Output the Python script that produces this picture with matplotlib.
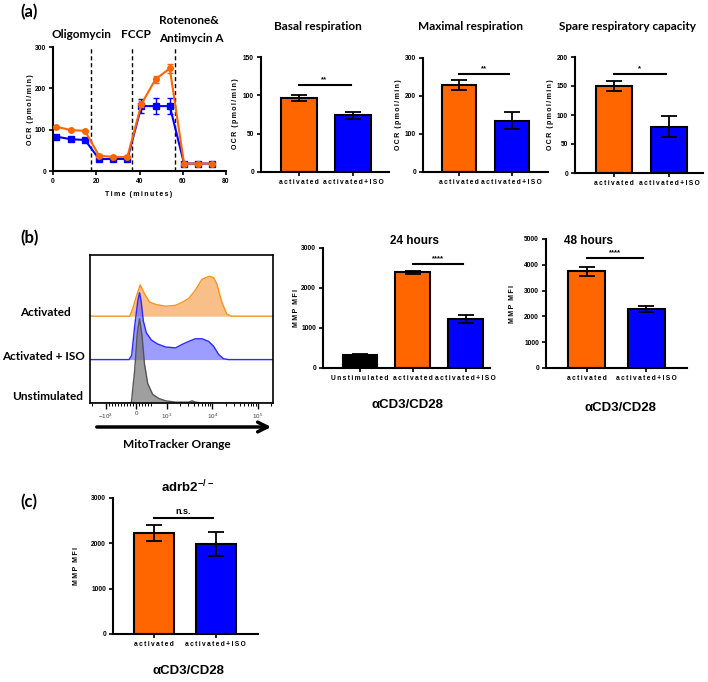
import matplotlib.pyplot as plt
import numpy as np

plt.rcParams['mathtext.default'] = 'regular'
plt.rcParams['font.family'] = ['Liberation Sans', 'DejaVu Sans']

W, H = 708, 682
fig = plt.figure(figsize=(W / 100, H / 100), dpi=100)

ORANGE = '#ff6600'
BLUE = '#0000ff'
CALIBRI = 'Lato'

# ---- (a) OCR trace
time_min = [1.6, 8.2, 14.8, 21.3, 27.9, 34.4, 40.9, 47.4, 54.0, 60.6, 67.1, 73.6]
ocr_act = [107, 99, 97, 37, 34, 34, 162, 222, 248, 18, 18, 18]
ocr_act_err = [3, 3, 3, 3, 2, 2, 8, 8, 12, 2, 2, 2]
ocr_iso = [83, 77, 75, 29, 29, 29, 157, 157, 157, 18, 18, 18]
ocr_iso_err = [3, 3, 3, 2, 2, 2, 17, 20, 20, 2, 2, 2]
injections = [17.4, 36.5, 56.3]

groups2 = ['activated', 'activated+ISO']
groups3 = ['Unstimulated', 'activated', 'activated+ISO']
basal = [96, 74]
basal_err = [4, 4.5]
maximal = [228, 135]
maximal_err = [13, 22]
spare = [150, 80]
spare_err = [9, 18]

# ---- (b) histogram (MitoTracker intensity, relative height)
act_x = [-213, -106, 0, 129, 271, 432, 645, 968, 1570, 2195, 3069, 4270, 5970,
         8610, 10700, 12600, 16200, 20900, 26900]
act_h = [0, 0.20, 0.45, 0.72, 0.52, 0.33, 0.27, 0.23, 0.25, 0.32, 0.41, 0.60, 0.85,
         0.92, 0.89, 0.75, 0.33, 0.05, 0]
iso_x = [-235, -150, -52, 50, 108, 160, 230, 330, 500, 700, 968, 1570, 2195, 3069,
         4270, 5970, 8350, 10700, 13800, 17700, 23000]
iso_h = [0, 0.10, 0.77, 1.35, 1.54, 1.35, 0.90, 0.62, 0.45, 0.36, 0.29, 0.27, 0.35, 0.42,
         0.48, 0.48, 0.42, 0.31, 0.12, 0.02, 0]
unst_x = [-161, -52, 32, 108, 194, 271, 377, 539, 753, 968, 1570, 3069, 3620, 4270, 5970]
unst_h = [0, 0.75, 1.60, 1.95, 1.52, 0.90, 0.45, 0.20, 0.10, 0.05, 0.02, 0.02, 0.05, 0.02, 0]

mmp_24h = [333, 2390, 1230]
mmp_24h_err = [15, 40, 100]
mmp_48h = [3750, 2290]
mmp_48h_err = [170, 130]

# ---- (c) adrb2-/-
mmp_ko = [2230, 1990]
mmp_ko_err = [175, 270]

THIN = '\u2009'


def spaced(s):
    # GraphPad-style wide letter tracking
    return '  '.join(THIN.join(w) for w in s.split(' '))


def px_axes(l, t, r, b):
    return fig.add_axes([l / W, 1 - b / H, (r - l) / W, (b - t) / H])


def ftext(x, y, s, **kw):
    kw.setdefault('ha', 'center')
    kw.setdefault('va', 'center')
    fig.text(x / W, 1 - y / H, s, **kw)


def style_axes(ax):
    for s in ['top', 'right']:
        ax.spines[s].set_visible(False)
    for s in ['left', 'bottom']:
        ax.spines[s].set_linewidth(1.5)
    ax.tick_params(width=1.2, length=3, labelsize=4.8, pad=2)
    for lbl in ax.get_yticklabels() + ax.get_xticklabels():
        lbl.set_fontweight('bold')
    ax.patch.set_alpha(0)


def bar_panel(ax, names, vals, errs, colors, ymax, ystep, xlim, width, sig, sig_y):
    pos = np.arange(len(vals))
    ax.bar(pos, vals, width=width, color=colors, edgecolor='black', linewidth=1.5, zorder=2)
    ax.errorbar(pos, vals, yerr=errs, fmt='none', ecolor='black', elinewidth=1.3,
                capsize=6, capthick=1.3, zorder=3)
    ax.set_xlim(*xlim)
    ax.set_ylim(0, ymax)
    ax.set_yticks(np.arange(0, ymax + 1, ystep))
    ax.set_xticks(pos)
    ax.set_xticklabels([spaced(n) for n in names], fontsize=4.2)
    style_axes(ax)
    p0 = len(vals) - 2
    ax.plot([p0, p0 + 0.95], [sig_y, sig_y], color='black', lw=1.5, clip_on=False)
    ax.text(p0 + 0.47, sig_y + ymax * 0.015, sig, ha='center', va='bottom',
            fontsize=6.5 if sig == 'n.s.' else 5.5, fontweight='bold')


# ======== panel (a)
ftext(20, 12, '(a)', fontsize=12, fontweight='bold', family=CALIBRI, ha='left')
ax = px_axes(53, 47, 226, 171)
ax.errorbar(time_min, ocr_act, yerr=ocr_act_err, color=ORANGE, marker='o', ms=4,
            lw=1.5, capsize=2.5, elinewidth=1, clip_on=False, zorder=3)
ax.errorbar(time_min, ocr_iso, yerr=ocr_iso_err, color=BLUE, marker='s', ms=4,
            lw=1.5, capsize=2.5, elinewidth=1, clip_on=False, zorder=2)
for t in injections:
    ax.axvline(t, color='black', lw=1, ls=(0, (3, 2)), zorder=1)
ax.set_xlim(0, 80)
ax.set_ylim(0, 300)
ax.set_xticks([0, 20, 40, 60, 80])
ax.set_yticks([0, 100, 200, 300])
style_axes(ax)
ftext(139, 195, spaced('Time (minutes)'), fontsize=5, fontweight='bold')
ocr_lbl = spaced('OCR (pmol/min)')
ftext(30, 110, ocr_lbl, fontsize=5, fontweight='bold', rotation=90)
ftext(81, 34, 'Oligomycin', fontsize=8.5, fontweight='bold', family=CALIBRI)
ftext(136, 34, 'FCCP', fontsize=8.5, fontweight='bold', family=CALIBRI)
ftext(159, 20, 'Rotenone&', fontsize=8.5, fontweight='bold', family=CALIBRI, ha='left')
ftext(159, 38, 'Antimycin A', fontsize=8.5, fontweight='bold', family=CALIBRI, ha='left')

ax = px_axes(261, 57, 389, 172)
bar_panel(ax, groups2, basal, basal_err, [ORANGE, BLUE], 150, 50, (-0.69, 1.65), 0.66, '**', 113)
ftext(274, 26, 'Basal respiration', fontsize=8.5, fontweight='bold', family=CALIBRI, ha='left')
ftext(235, 114, ocr_lbl, fontsize=5, fontweight='bold', rotation=90)

ax = px_axes(423, 58, 548, 172)
bar_panel(ax, groups2, maximal, maximal_err, [ORANGE, BLUE], 300, 100, (-0.69, 1.69), 0.64, '**', 259)
ftext(418, 26, 'Maximal respiration', fontsize=8.5, fontweight='bold', family=CALIBRI, ha='left')
ftext(398, 115, ocr_lbl, fontsize=5, fontweight='bold', rotation=90)

ax = px_axes(575, 57, 703, 173)
bar_panel(ax, groups2, spare, spare_err, [ORANGE, BLUE], 200, 50, (-0.70, 1.61), 0.65, '*', 170)
ftext(559, 26, 'Spare respiratory capacity', fontsize=8.5, fontweight='bold', family=CALIBRI, ha='left')
ftext(551, 115, ocr_lbl, fontsize=5, fontweight='bold', rotation=90)

# ======== panel (b)
ftext(20, 238, '(b)', fontsize=12, fontweight='bold', family=CALIBRI, ha='left')
ax = px_axes(90, 255, 273, 403)
ax.set_xscale('symlog', linthresh=1000, linscale=0.6)
xmin, xmax = -2230, 216000
ridges = [
    (act_x, act_h, 2, '#f9bf88', 1.0, '#f7941d'),
    (iso_x, iso_h, 1, '#5c5cff', 0.6, '#2a2aff'),
    (unst_x, unst_h, 0, '#777777', 0.7, '#555555'),
]
for xs, hs, base, fc, al, lc in ridges:
    xx = np.r_[xmin, xs, xmax]
    hh = np.r_[0, hs, 0]
    ax.fill_between(xx, base, base + hh, color=fc, alpha=al, lw=0)
    ax.plot(xx, base + hh, color=lc, lw=1)
ax.set_xlim(xmin, xmax)
ax.set_ylim(0, 3.41)
ax.set_yticks([])
ax.set_xticks([-1000, 0, 1000, 10000, 100000])
ax.set_xticklabels(['$-10^3$', '0', '$10^3$', '$10^4$', '$10^5$'], color='#444444', fontsize=4.5)
minor = [-2000, -900, -800, -700, -600, -500, -400, -300, -200, -100, 100, 200, 300, 400, 500]
minor += [m * 10 ** d for d in (3, 4) for m in range(2, 10)] + [200000]
ax.set_xticks(minor, minor=True)
ax.tick_params(axis='x', which='major', length=4, width=1, pad=2)
ax.tick_params(axis='x', which='minor', length=2, width=0.7)
for s in ax.spines.values():
    s.set_linewidth(1.2)
ax.annotate('', xy=(274 / W, 1 - 427 / H), xytext=(94 / W, 1 - 427 / H),
            xycoords='figure fraction',
            arrowprops=dict(arrowstyle='->,head_length=0.7,head_width=0.35', lw=2.5, color='black'))
ftext(177, 445, 'MitoTracker Orange', fontsize=8.5, family=CALIBRI, fontweight='bold')
ftext(45, 312, 'Activated', fontsize=8.5, fontweight='bold', family=CALIBRI)
ftext(43, 356, 'Activated + ISO', fontsize=8.5, fontweight='bold', family=CALIBRI)
ftext(48, 397, 'Unstimulated', fontsize=8.5, fontweight='bold', family=CALIBRI)

mmp_lbl = spaced('MMP MFI')
ax = px_axes(323, 248, 490, 368)
bar_panel(ax, groups3, mmp_24h, mmp_24h_err, ['black', ORANGE, BLUE], 3000, 1000,
          (-0.70, 2.46), 0.66, '****', 2608)
ftext(414, 241, '24 hours', fontsize=8.5, fontweight='bold')
ftext(297, 308, mmp_lbl, fontsize=5, fontweight='bold', rotation=90)
ftext(407, 405, 'αCD3/CD28', fontsize=9.5, fontweight='bold')

ax = px_axes(546, 239, 687, 368)
bar_panel(ax, groups2, mmp_48h, mmp_48h_err, [ORANGE, BLUE], 5000, 1000,
          (-0.68, 1.68), 0.63, '****', 4264)
ftext(588, 241, '48 hours', fontsize=8.5, fontweight='bold')
ftext(513, 304, mmp_lbl, fontsize=5, fontweight='bold', rotation=90)
ftext(620, 408, 'αCD3/CD28', fontsize=9.5, fontweight='bold')

# ======== panel (c)
ftext(20, 502, '(c)', fontsize=12, fontweight='bold', family=CALIBRI, ha='left')
ax = px_axes(113, 498, 258, 634)
bar_panel(ax, groups2, mmp_ko, mmp_ko_err, [ORANGE, BLUE], 3000, 1000,
          (-0.66, 1.68), 0.65, 'n.s.', 2559)
ftext(188, 487, 'adrb2$^{-/-}$', fontsize=9.5, fontweight='bold')
ftext(77, 566, mmp_lbl, fontsize=5, fontweight='bold', rotation=90)
ftext(188, 671, 'αCD3/CD28', fontsize=9.5, fontweight='bold')

fig.savefig('out.png', dpi=100)
